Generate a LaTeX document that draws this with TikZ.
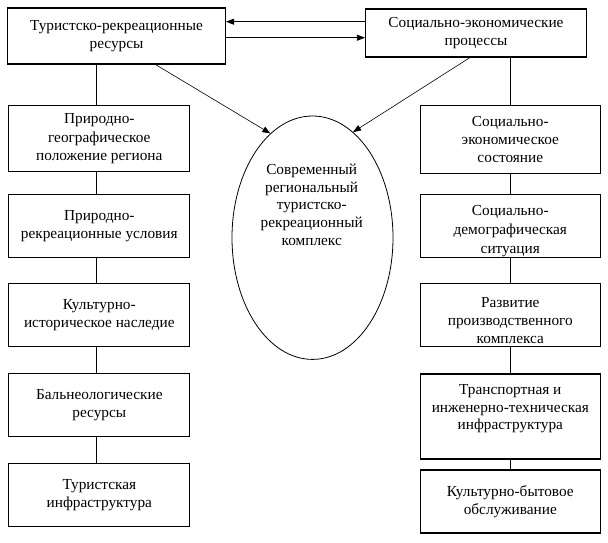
\documentclass[tikz,border=0pt]{standalone}
\usepackage{fontspec}
\setmainfont{Liberation Serif}
\usetikzlibrary{arrows.meta,shapes.geometric}

\begin{document}
\begin{tikzpicture}[x=1pt,y=-1pt,
    txt/.style={align=center,font=\fontsize{15.3}{18.3}\selectfont},
    box/.style={txt,draw,line width=1.1pt,inner sep=1pt,minimum width=181},
    link/.style={line width=0.6pt},
    arr/.style={line width=0.6pt,-{Triangle[length=8pt,width=6pt]}}]
    \useasboundingbox (0,0) rectangle (608,543);
    \node[box,minimum width=218,minimum height=56] (tres) at (116.5,36) {Туристско-рекреационные\\ресурсы};
    \node[box,minimum width=221,minimum height=48] (sproc) at (476,33) {Социально-экономические\\процессы};
    \node[box,minimum height=66] (geo) at (99.3,138.7) {Природно-\\географическое\\положение региона};
    \node[box,minimum height=63] (usl) at (99.3,226.3) {Природно-\\рекреационные условия};
    \node[box,minimum height=63] (nasl) at (99.3,315) {Культурно-\\историческое наследие};
    \node[box,minimum height=63] (baln) at (99.3,405.3) {Бальнеологические\\ресурсы};
    \node[box,minimum height=63] (infr) at (99.3,495.3) {Туристская\\инфраструктура};
    \node[box,minimum width=180,minimum height=68] (sost) at (510.3,139.5) {Социально-\\экономическое\\состояние};
    \node[box,minimum width=180,minimum height=63] (dem) at (510.3,226.4) {};
    \node[txt,font=\fontsize{15.3}{19}\selectfont] (demt) at (510.3,231) {Социально-\\демографическая\\ситуация};
    \node[box,minimum width=180,minimum height=63] (proizv) at (510.3,315) {};
    \node[txt] (proizvt) at (510.3,320.5) {Развитие\\производственного\\комплекса};
    \node[box,minimum width=180,minimum height=85] (transp) at (510.3,416.5) {};
    \node[txt,font=\fontsize{15.3}{17.5}\selectfont] (transpt) at (510.3,409) {Транспортная и\\инженерно-техническая\\инфраструктура};
    \node[box,minimum width=180,minimum height=63] (obsl) at (510.3,501.5) {Культурно-бытовое\\обслуживание};
    \node[draw,ellipse,line width=0.8pt,minimum width=161,minimum height=243.4] (kompl) at (312.5,237.7) {};
    \node[txt,font=\fontsize{15.3}{17.7}\selectfont] (komplt) at (311.7,204.7) {Современный\\региональный\\туристско-\\рекреационный\\комплекс};
    \coordinate (up) at ([yshift=11.3]sproc.west);
    \coordinate (dn) at ([yshift=-4.7]sproc.west);
    \draw[arr] (up) -- (up -| tres.east);
    \draw[arr] (dn -| tres.east) -- (dn);
    \draw[arr] ([xshift=39]tres.south) -- (kompl.112.5);
    \draw[arr] ([xshift=-6]sproc.south) -- (kompl.69.6);
    \draw[link] ([xshift=-2.6]geo.north) -- ([xshift=-2.6]geo.north |- tres.south);
    \draw[link] ([xshift=-2.6]geo.south) -- ([xshift=-2.6]usl.north);
    \draw[link] ([xshift=-2.6]usl.south) -- ([xshift=-2.6]nasl.north);
    \draw[link] ([xshift=-2.6]nasl.south) -- ([xshift=-2.6]baln.north);
    \draw[link] ([xshift=-2.6]baln.south) -- ([xshift=-2.6]infr.north);
    \draw[link] (sost.north) -- (sost.north |- sproc.south);
    \draw[link] (sost.south) -- (dem.north);
    \draw[link] (dem.south) -- (proizv.north);
    \draw[link] (proizv.south) -- (transp.north);
    \draw[link] (transp.south) -- (obsl.north);
\end{tikzpicture}
\end{document}
